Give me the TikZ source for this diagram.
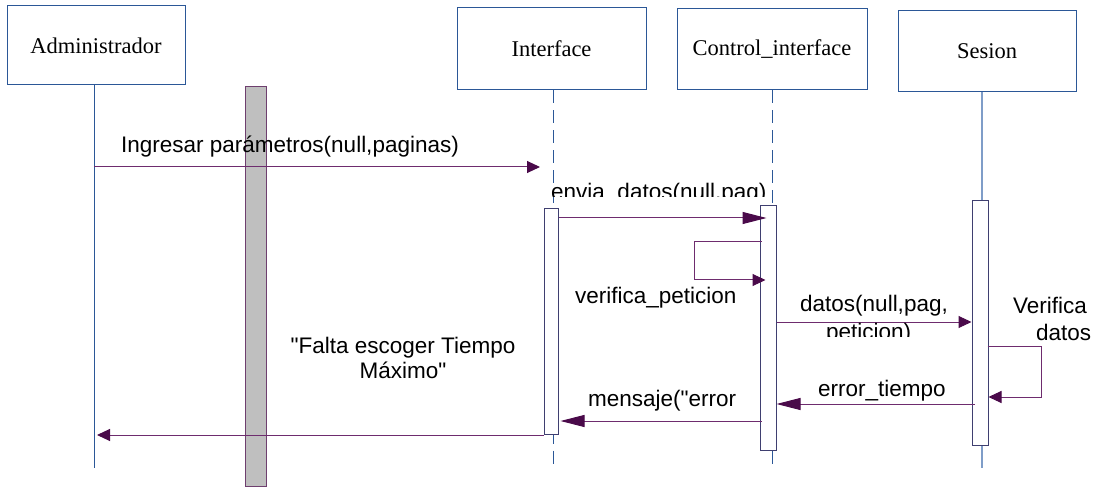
\documentclass[tikz,border=0pt]{standalone}
\usepackage{fontspec}
\setmainfont{Liberation Serif}
\newfontfamily\arialf{Liberation Sans}
\usetikzlibrary{arrows.meta}
\definecolor{hdr}{HTML}{2B5797}
\definecolor{lifelt}{HTML}{7F9DC8}
\definecolor{msgline}{HTML}{6E2C6E}
\definecolor{msgtip}{HTML}{4A0A4A}
\definecolor{actdraw}{HTML}{3F3F70}
\definecolor{barfill}{HTML}{BFBFBF}
\definecolor{bardraw}{HTML}{6E3F6E}
\tikzset{
  hdrbox/.style={draw=hdr, line width=1pt, fill=white, rectangle, inner sep=0pt,
    font=\fontsize{22.5}{26}\selectfont},
  life/.style={draw=hdr, line width=1pt},
  dlife/.style={draw=hdr, line width=1pt, dash pattern=on 13pt off 7pt},
  actbox/.style={draw=actdraw, line width=1pt, fill=white, rectangle, inner sep=0pt, minimum width=14pt},
  msg/.style={draw=msgline, line width=1pt, -{Triangle[length=13pt,width=12pt,color=msgtip]}},
  msglong/.style={draw=msgline, line width=1pt, -{Triangle[length=24pt,width=12pt,color=msgtip]}},
  lbl/.style={font=\arialf\fontsize{22.5}{26}\selectfont, inner sep=0pt, anchor=base west},
}
\begin{document}
\begin{tikzpicture}[x=1pt,y=-1pt]
\useasboundingbox (0,0) rectangle (1101,489);
% headers
\node[hdrbox, minimum width=178pt, minimum height=79pt] (adm) at (96,45.5) {Administrador};
\node[hdrbox, minimum width=189pt, minimum height=82pt] (itf) at (551.5,49) {Interface};
\node[hdrbox, minimum width=190pt, minimum height=81pt] (ctl) at (772,49.5) {Control\_interface};
\node[hdrbox, minimum width=178pt, minimum height=81pt] (ses) at (987,51.5) {Sesion};
% lifeline ends
\coordinate (aend) at (94,468);
\coordinate (iend) at (553,468);
\coordinate (cend) at (772,468);
\coordinate (send) at (982,468);
\draw[life] (aend |- adm.south) -- (aend);
\draw[dlife] (iend |- itf.south) -- (iend);
\draw[dlife] (cend |- ctl.south) -- (cend);
\draw[draw=lifelt, line width=1.2pt] (send |- ses.south) -- (send);
% gray bar
\node[draw=bardraw, fill=barfill, line width=1pt, rectangle, inner sep=0pt, minimum width=21pt, minimum height=399pt] (bar) at (255.5,286.5) {};
% activations
\node[actbox, minimum height=225pt] (ia) at (551,321.5) {};
\node[actbox, minimum height=244pt, minimum width=16pt] (ca) at (768,328) {};
\node[actbox, minimum height=244pt, minimum width=16pt] (sa) at (980,323) {};
% messages
\draw[msg] (aend |- 0,167) -- ([xshift=-13pt]iend |- 0,167);
\node[lbl] (m1) at (121,153) {Ingresar parámetros(null,paginas)};

\draw[msglong] (ia.east |- 0,218) -- ([xshift=7pt]ca.west |- 0,218);
\begin{scope}
\clip (540,165) rectangle (790,197);
\node[lbl] (m2) at (551,200) {envia\_datos(null,pag)};
\end{scope}

\draw[msg] ([xshift=2pt]ca.west |- 0,242) -- (694,242) -- (694,280) -- ([xshift=6pt]ca.west |- 0,280);
\node[lbl] (m3) at (575,303) {verifica\_peticion};

\draw[msg] (ca.east |- 0,322) -- (sa.west |- 0,322);
\node[lbl] (m4) at (800,312) {datos(null,pag,};
\begin{scope}
\clip (790,315) rectangle (960,336);
\node[lbl] (m4b) at (826,339) {peticion)};
\end{scope}

\draw[msg] ([xshift=-1pt]sa.east |- 0,346) -- (1041,346) -- (1041,397) -- (sa.east |- 0,397);
\node[lbl] (m5) at (1013,313) {Verifica};
\node[lbl] (m5b) at (1036,340) {datos};

\draw[msglong] ([xshift=3pt]sa.west |- 0,404) -- (ca.east |- 0,404);
\node[lbl] (m6) at (818,396) {error\_tiempo};

\draw[msglong] ([xshift=2pt]ca.west |- 0,421) -- ([xshift=2pt]ia.east |- 0,421);
\node[lbl] (m7) at (588,406) {mensaje("error};

\draw[msg] (ia.west |- 0,435) -- ([xshift=3pt]aend |- 0,435);
\node[font=\arialf\fontsize{22.5}{25}\selectfont, align=center, inner sep=0pt, anchor=base] (m8) at (403,378) {"Falta escoger Tiempo\\Máximo"};
\end{tikzpicture}
\end{document}
